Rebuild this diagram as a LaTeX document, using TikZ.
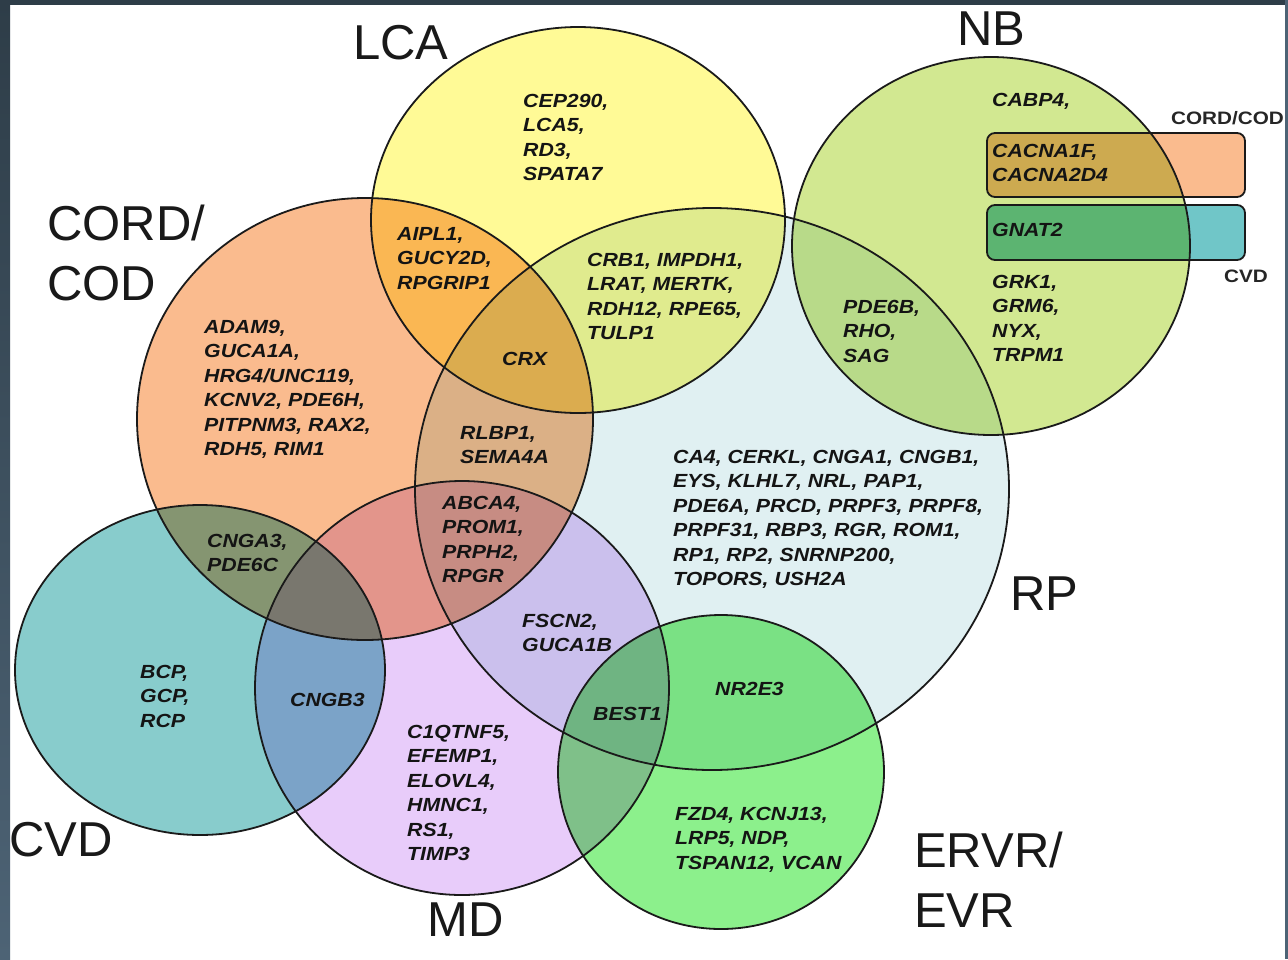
\documentclass[tikz,border=0pt]{standalone}
\usepackage{fontspec}
\setmainfont{Liberation Sans}
\newfontfamily\genefont[FakeStretch=1.12]{Liberation Sans}
\newfontfamily\smallfont[FakeStretch=1.15]{Liberation Sans}
\newfontfamily\labelfont{Liberation Sans}
\definecolor{lcaC}{HTML}{FFFA96}
\definecolor{cordC}{HTML}{FABB8E}
\definecolor{cvdC}{HTML}{88CCCC}
\definecolor{cvdBox}{HTML}{70C6C8}
\definecolor{mdC}{HTML}{E8CCFA}
\definecolor{rpC}{HTML}{E0F0F2}
\definecolor{nbC}{HTML}{D2E891}
\definecolor{ervrC}{HTML}{8CF08C}
\definecolor{frameTop}{HTML}{2E3D48}
\definecolor{frameBot}{HTML}{4D6375}
\definecolor{outline}{HTML}{1A1A1A}
\tikzset{
  gene/.style={font=\genefont\bfseries\itshape\fontsize{19}{24.5}\selectfont,
    align=left, anchor=north west, inner sep=0pt, text=black!92},
  biglab/.style={font=\labelfont\fontsize{49}{60}\selectfont,
    align=left, anchor=north west, inner sep=0pt, text=black!90},
  smalllab/.style={font=\smallfont\bfseries\fontsize{18}{20}\selectfont,
    inner sep=0pt, text=black!85},
  ring/.style={draw=outline, line width=1.8pt},
  boxring/.style={draw=outline, line width=1.8pt, rounded corners=8pt}
}
\begin{document}
\begin{tikzpicture}[x=1pt,y=-1pt]
\useasboundingbox (0,0) rectangle (1288,959);
\fill[white] (0,0) rectangle (1288,959);
\shade[top color=frameTop, bottom color=frameBot] (0,0) rectangle (10,959);
\fill[frameTop] (0,0) rectangle (1288,5);
\fill[frameBot] (1285,0) rectangle (1288,959);

% fills, blended
\begin{scope}[blend group=multiply]
  \fill[rpC]   (712,489) ellipse [x radius=297, y radius=281];
  \fill[lcaC]  (578,220) ellipse [x radius=207, y radius=193];
  \fill[nbC]   (991,246) ellipse [x radius=199, y radius=189];
  \fill[cordC] (365,419) ellipse [x radius=228, y radius=221];
  \fill[cvdC]  (200,670) ellipse [x radius=185, y radius=165];
  \fill[mdC]   (462,688) ellipse [x radius=207, y radius=207];
  \fill[ervrC] (721,772) ellipse [x radius=163, y radius=157];
  \fill[cordC, rounded corners=8pt] (987,133) rectangle (1245,197);
  \fill[cvdBox, rounded corners=8pt] (987,205) rectangle (1245,260);
\end{scope}

% outlines
\path[ring] (712,489) ellipse [x radius=297, y radius=281];
\path[ring] (578,220) ellipse [x radius=207, y radius=193];
\path[ring] (991,246) ellipse [x radius=199, y radius=189];
\path[ring] (365,419) ellipse [x radius=228, y radius=221];
\path[ring] (200,670) ellipse [x radius=185, y radius=165];
\path[ring] (462,688) ellipse [x radius=207, y radius=207];
\path[ring] (721,772) ellipse [x radius=163, y radius=157];
\path[boxring] (987,133) rectangle (1245,197);
\path[boxring] (987,205) rectangle (1245,260);

% group labels
\node[biglab] (lLCA) at (353,25) {LCA};
\node[biglab] (lNB) at (957,12) {NB};
\node[biglab] (lCORD) at (47,205) {CORD/\\COD};
\node[biglab] (lRP) at (1010,577) {RP};
\node[biglab] (lCVD) at (9,822) {CVD};
\node[biglab] (lMD) at (427,903) {MD};
\node[biglab] (lERVR) at (914,832) {ERVR/\\EVR};
\node[smalllab, anchor=north east] (sCORD) at (1284,111) {CORD/COD};
\node[smalllab, anchor=north east] (sCVD) at (1268,270) {CVD};

% genes
\node[gene] (gLCA) at (523,94) {CEP290,\\LCA5,\\RD3,\\SPATA7};
\node[gene] (gLC) at (397,227) {AIPL1,\\GUCY2D,\\RPGRIP1};
\node[gene] (gCRX) at (502,352) {CRX};
\node[gene] (gLR) at (587,253) {CRB1, IMPDH1,\\LRAT, MERTK,\\RDH12, RPE65,\\TULP1};
\node[gene] (gCORD) at (204,320) {ADAM9,\\GUCA1A,\\HRG4/UNC119,\\KCNV2, PDE6H,\\PITPNM3, RAX2,\\RDH5, RIM1};
\node[gene] (gCR) at (460,426) {RLBP1,\\SEMA4A};
\node[gene] (gCMR) at (442,496) {ABCA4,\\PROM1,\\PRPH2,\\RPGR};
\node[gene] (gCC) at (207,534) {CNGA3,\\PDE6C};
\node[gene] (gCVD) at (140,665) {BCP,\\GCP,\\RCP};
\node[gene] (gCM) at (290,693) {CNGB3};
\node[gene] (gMR) at (522,614) {FSCN2,\\GUCA1B};
\node[gene] (gBEST) at (593,707) {BEST1};
\node[gene] (gNR) at (715,682) {NR2E3};
\node[gene] (gMD) at (407,725) {C1QTNF5,\\EFEMP1,\\ELOVL4,\\HMNC1,\\RS1,\\TIMP3};
\node[gene] (gERVR) at (675,807) {FZD4, KCNJ13,\\LRP5, NDP,\\TSPAN12, VCAN};
\node[gene] (gRP) at (673,450) {CA4, CERKL, CNGA1, CNGB1,\\EYS, KLHL7, NRL, PAP1,\\PDE6A, PRCD, PRPF3, PRPF8,\\PRPF31, RBP3, RGR, ROM1,\\RP1, RP2, SNRNP200,\\TOPORS, USH2A};
\node[gene] (gNR2) at (843,300) {PDE6B,\\RHO,\\SAG};
\node[gene] (gNB1) at (992,93) {CABP4,};
\node[gene] (gNB2) at (992,144) {CACNA1F,\\CACNA2D4};
\node[gene] (gNB3) at (992,223) {GNAT2};
\node[gene] (gNB4) at (992,275) {GRK1,\\GRM6,\\NYX,\\TRPM1};
\end{tikzpicture}
\end{document}
